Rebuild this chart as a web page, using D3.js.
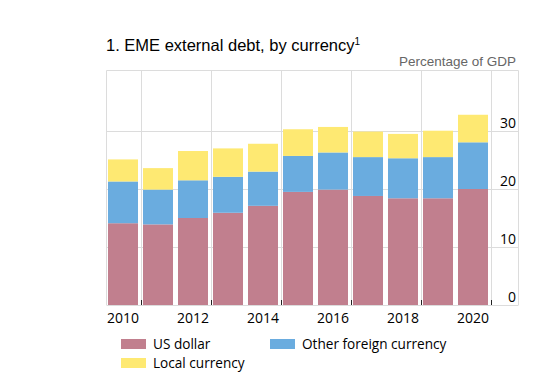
<!DOCTYPE html>
<html><head><meta charset="utf-8">
<script src="https://cdn.jsdelivr.net/npm/d3@7"></script>
<style>body{margin:0;background:#fff}</style>
</head><body>
<svg id="chart" width="560" height="377"></svg>
<script>
const years = [2010,2011,2012,2013,2014,2015,2016,2017,2018,2019,2020];
const usDollar = [14.1,13.9,15.0,15.9,17.1,19.5,19.9,18.8,18.4,18.4,20.0];
const otherForeign = [7.2,6.0,6.5,6.2,5.9,6.2,6.4,6.7,6.9,7.1,8.05];
const localCurrency = [3.8,3.7,5.05,4.9,4.8,4.6,4.4,4.4,4.2,4.55,4.75];
const seriesNames = ["US dollar","Other foreign currency","Local currency"];
const seriesColors = ["#c17f8e","#6aacdf","#fee972"];
const yTicks = [0,10,20,30];
const xLabelYears = [2010,2012,2014,2016,2018,2020];

const svg = d3.select("#chart");
const plotLeft = 106.5, plotRight = 518.5, plotTop = 70.5, plotBottom = 305;
const bandStart = 105.5, bandStep = 35;

const x = d3.scaleBand().domain(years).range([bandStart, bandStart + bandStep*years.length]).paddingInner(5/35).paddingOuter(2.5/35);
const y = d3.scaleLinear().domain([0,40]).range([plotBottom, plotBottom - 232]);

const table = years.map((yr,i)=>({year:yr, "US dollar":usDollar[i], "Other foreign currency":otherForeign[i], "Local currency":localCurrency[i]}));
const stacked = d3.stack().keys(seriesNames)(table);

// grid
const grid = svg.append("g").attr("stroke","#dcdcdc").attr("stroke-width",1);
[10,20,30].forEach(v=>{
  grid.append("line").attr("x1",plotLeft).attr("x2",plotRight).attr("y1",Math.round(y(v))+0.5).attr("y2",Math.round(y(v))+0.5);
});
grid.append("line").attr("x1",plotLeft).attr("x2",plotRight).attr("y1",plotTop).attr("y2",plotTop);
const boundaries = [2010,2012,2014,2016,2018,2020].map(yr=>x(yr)+x.bandwidth()+x.step()*x.paddingInner()/2);
boundaries.forEach(bx=>{
  grid.append("line").attr("x1",Math.round(bx)+0.5).attr("x2",Math.round(bx)+0.5).attr("y1",plotTop).attr("y2",plotBottom);
});
grid.append("line").attr("x1",plotLeft).attr("x2",plotLeft).attr("y1",plotTop).attr("y2",plotBottom);
grid.append("line").attr("x1",plotRight).attr("x2",plotRight).attr("y1",plotTop).attr("y2",plotBottom);
grid.append("line").attr("x1",plotLeft).attr("x2",plotRight).attr("y1",plotBottom+0.5).attr("y2",plotBottom+0.5);

// bars
svg.append("g").selectAll("g").data(stacked).join("g")
  .attr("fill",(d,i)=>seriesColors[i])
  .selectAll("rect").data(d=>d).join("rect")
  .attr("x",d=>x(d.data.year))
  .attr("width",x.bandwidth())
  .attr("y",d=>y(d[1]))
  .attr("height",d=>y(d[0])-y(d[1]));

// ticks
const tk = svg.append("g").attr("stroke","#222").attr("stroke-width",1);
boundaries.forEach(bx=>{
  tk.append("line").attr("x1",Math.round(bx)+0.5).attr("x2",Math.round(bx)+0.5).attr("y1",plotBottom).attr("y2",plotBottom-5);
});

// y labels
svg.append("g").selectAll("text").data(yTicks).join("text")
  .attr("x",516).attr("y",d=>y(d)-3)
  .attr("text-anchor","end")
  .attr("font-family","'Open Sans', 'Noto Sans', sans-serif").attr("font-size",14).attr("fill","#000")
  .text(d=>d);

// x labels
svg.append("g").selectAll("text").data(xLabelYears).join("text")
  .attr("x",d=>x(d)+x.bandwidth()/2).attr("y",323)
  .attr("text-anchor","middle")
  .attr("font-family","'Open Sans', 'Noto Sans', sans-serif").attr("font-size",14).attr("fill","#000")
  .text(d=>d);

// title
const title = svg.append("text").attr("x",106).attr("y",51)
  .attr("font-family","'Liberation Sans', Arial, sans-serif").attr("font-size",16.5).attr("fill","#000");
title.append("tspan").text("1. EME external debt, by currency");
title.append("tspan").attr("dy",-6).attr("font-size",10).text("1");

svg.append("text").attr("x",516).attr("y",66).attr("text-anchor","end")
  .attr("font-family","'Liberation Sans', Arial, sans-serif").attr("font-size",13.5).attr("fill","#666")
  .text("Percentage of GDP");

// legend
const legendPos = [[121,339],[270,339],[121,358]];
const lg = svg.append("g");
seriesNames.forEach((n,i)=>{
  const [lx,ly] = legendPos[i];
  lg.append("rect").attr("x",lx).attr("y",ly).attr("width",25).attr("height",10).attr("fill",seriesColors[i]);
  lg.append("text").attr("x",lx+32).attr("y",ly+10)
    .attr("font-family","'Open Sans', 'Noto Sans', sans-serif").attr("font-size",13.6).attr("fill","#000").text(n);
});
</script>
</body></html>
